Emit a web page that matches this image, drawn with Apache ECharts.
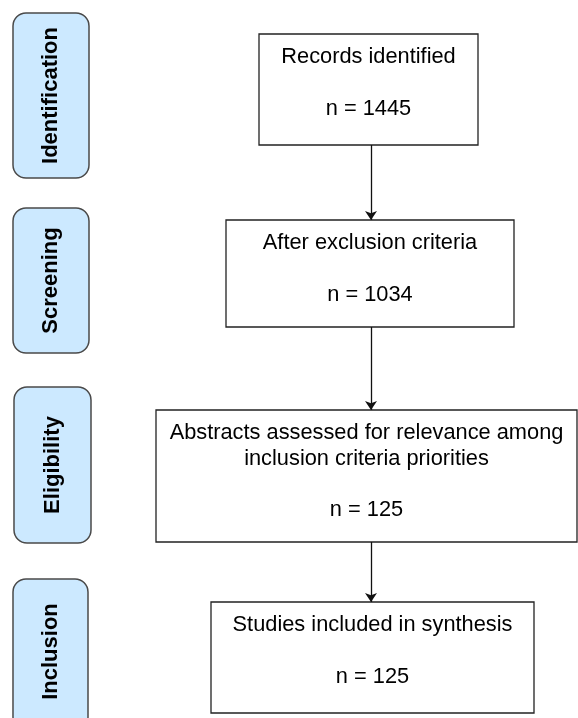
<!DOCTYPE html>
<html>
<head>
<meta charset="utf-8">
<script src="https://cdn.jsdelivr.net/npm/echarts@6/dist/echarts.min.js"></script>
<style>
  html, body { margin: 0; padding: 0; background: #fff; }
  #flow { width: 578px; height: 718px; }
</style>
</head>
<body>
<div id="flow"></div>
<script>
// flow content
const phases = ['Identification', 'Screening', 'Eligibility', 'Inclusion'];
const steps = [
  'Records identified',
  'After exclusion criteria',
  'Abstracts assessed for relevance among\ninclusion criteria priorities',
  'Studies included in synthesis'
];
const counts = [1445, 1034, 125, 125];

// layout (page pixels, y downwards): x0, y0, x1, y1
const phaseBoxes = [[13, 13, 89, 178], [13, 208, 89, 353], [14, 387, 91, 543], [13, 579, 88, 730]];
const stepBoxes = [[259, 34, 478, 145], [226, 220, 514, 327], [156, 410, 577, 542], [211, 602, 534, 713]];
const arrowX = 371;

const font = 'Arial, "Liberation Sans", sans-serif';

const chart = echarts.init(document.getElementById('flow'));

const phaseData = phaseBoxes.map((b, i) => [...b, i]);
const stepData = stepBoxes.map((b, i) => [...b, i]);
const arrowData = stepBoxes.slice(1).map((b, i) => ({
  coords: [[arrowX, stepBoxes[i][3]], [arrowX, b[1]]]
}));

const option = {
  animation: false,
  grid: { left: 0, right: 0, top: 0, bottom: 0 },
  xAxis: { type: 'value', min: 0, max: 578, show: false },
  yAxis: { type: 'value', min: 0, max: 718, inverse: true, show: false },
  series: [
    {
      type: 'custom',
      data: phaseData,
      renderItem: (params, api) => {
        const p0 = api.coord([api.value(0), api.value(1)]);
        const p1 = api.coord([api.value(2), api.value(3)]);
        const name = phases[api.value(4)];
        return {
          type: 'group',
          children: [
            {
              type: 'rect',
              shape: { x: p0[0], y: p0[1], width: p1[0] - p0[0], height: p1[1] - p0[1], r: 13 },
              style: { fill: '#cce9ff', stroke: '#4a4a4a', lineWidth: 1.5 }
            },
            {
              type: 'text',
              x: (p0[0] + p1[0]) / 2,
              y: (p0[1] + Math.min(p1[1], 718)) / 2 + (name === 'Inclusion' ? 3 : 0),
              rotation: Math.PI / 2,
              style: {
                text: name,
                align: 'center',
                verticalAlign: 'middle',
                fontFamily: font,
                fontSize: 22,
                fontWeight: 'bold',
                fill: '#000'
              }
            }
          ]
        };
      }
    },
    {
      type: 'custom',
      data: stepData,
      renderItem: (params, api) => {
        const p0 = api.coord([api.value(0), api.value(1)]);
        const p1 = api.coord([api.value(2), api.value(3)]);
        const i = api.value(4);
        return {
          type: 'group',
          children: [
            {
              type: 'rect',
              shape: { x: p0[0], y: p0[1], width: p1[0] - p0[0], height: p1[1] - p0[1] },
              style: { fill: '#fff', stroke: '#222', lineWidth: 1.3 }
            },
            {
              type: 'text',
              x: (p0[0] + p1[0]) / 2,
              y: p0[1] + 10,
              style: {
                text: steps[i] + '\n\nn = ' + counts[i],
                align: 'center',
                verticalAlign: 'top',
                fontFamily: font,
                fontSize: 21.8,
                lineHeight: 25.8,
                fill: '#000'
              }
            }
          ]
        };
      }
    },
    {
      type: 'lines',
      coordinateSystem: 'cartesian2d',
      symbol: ['none', 'arrow'],
      symbolSize: 9,
      lineStyle: { color: '#111', width: 1.3, opacity: 1 },
      data: arrowData
    }
  ]
};

chart.setOption(option);
</script>
</body>
</html>
